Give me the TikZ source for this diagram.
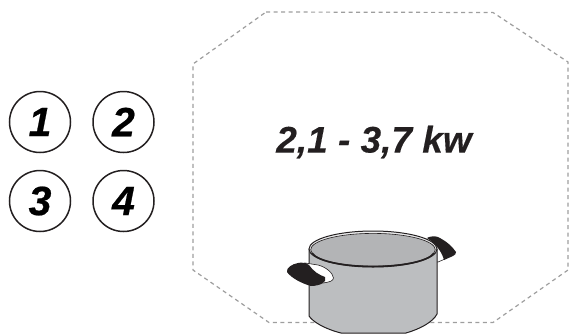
\documentclass[tikz,border=0pt]{standalone}
\usepackage{fontspec}
\setmainfont{Liberation Sans}[BoldItalicFeatures={FakeBold=0.25}]
\newfontfamily\digitfont{Liberation Sans}[BoldItalicFeatures={FakeBold=0.5}]
\definecolor{potgray}{HTML}{BCBEC0}
\definecolor{ink}{HTML}{231F20}
\tikzset{
  numcirc/.style={circle,draw=ink,line width=1.5pt,minimum size=61pt,inner sep=0pt,font=\digitfont\bfseries\itshape\fontsize{41}{41}\selectfont},
  zone/.style={draw=black!38,line width=1.2pt,dash pattern=on 4pt off 3.5pt},
  potline/.style={draw=ink,line width=1pt,line join=round}
}
\begin{document}
\begin{tikzpicture}[x=1pt,y=-1pt]
\useasboundingbox (0,0) rectangle (570,333);
\node[numcirc] (n1) at (40,122) {1};
\node[numcirc] (n2) at (123.5,122) {2};
\node[numcirc] (n3) at (40,201) {3};
\node[numcirc] (n4) at (123.5,201) {4};
\draw[zone] (266,12) -- (493,12.5) -- (568,62) -- (568,270) -- (493,322.5) -- (269,322.5) -- (193,270) -- (193,64) -- cycle;
\node[text=ink,font=\bfseries\itshape\fontsize{37}{37}\selectfont] (t) at (374,142) {2,1 - 3,7 kw};
% back handle
\draw[fill=white,draw=ink,line width=.6pt] (430,242) -- (440,247) .. controls (444,252) and (445,256) .. (445,259) -- (438,262) -- (432,262) -- cycle;
\fill[ink] (427,238) .. controls (430,236) and (435,236) .. (438,237) .. controls (446,241) and (452,246) .. (456,252) .. controls (456,254) and (455,255) .. (453,256) -- (444,260) .. controls (442,252) and (436,244) .. (427,238) -- cycle;
% pot body
\draw[potline,fill=potgray] (309,249) -- (309,316) .. controls (313,322) and (325,329) .. (341,333) -- (406,333) .. controls (420,329) and (433,322) .. (437,314) -- (437,249) -- cycle;
% rim
\draw[potline,fill=white!70!potgray] (373,249) ellipse (64pt and 18pt);
\draw[draw=ink,line width=.6pt,fill=black!5!potgray] (373,249.7) ellipse (62.3pt and 16.3pt);
\draw[draw=ink,line width=1.4pt] (312,253) .. controls (325,271) and (421,271) .. (434,253);
% front handle
\draw[fill=white,draw=ink,line width=.6pt] (305,263) -- (318,265) .. controls (326,267) and (333,273) .. (333.5,278) .. controls (333,281) and (330,282) .. (323,283) -- (315,275) -- cycle;
\fill[ink] (298,263) .. controls (302,262) and (306,263) .. (309,265) .. controls (313,271) and (319,275) .. (325,277) .. controls (326,280) and (325,282) .. (323,283) .. controls (320,285) and (315,286) .. (311,286) .. controls (303,284) and (291,278) .. (287,272) .. controls (286,268) and (292,264) .. (298,263) -- cycle;
\end{tikzpicture}
\end{document}
